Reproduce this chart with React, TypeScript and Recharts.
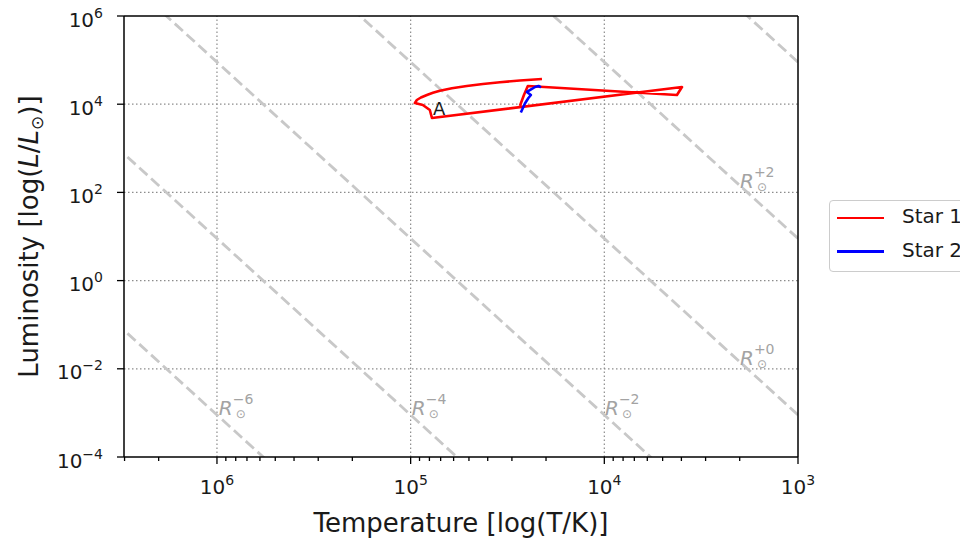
import {
  ComposedChart,
  Line,
  XAxis,
  YAxis,
  ReferenceLine,
  ReferenceDot,
} from 'recharts';

const FONT = '"DejaVu Sans", Verdana, sans-serif';

// evolutionary tracks: log10(T/K), log10(L/Lsun)
const star1LogT = [
  4.436, 4.415, 4.395, 3.625, 3.599, 4.890, 4.901, 4.937, 4.978, 4.968, 4.947, 4.916,
  4.885, 4.849, 4.787, 4.710, 4.627, 4.539, 4.436, 4.322,
];
const star1LogL = [
  3.959, 4.209, 4.413, 4.209, 4.390, 3.687, 3.868, 3.982, 4.027, 4.095, 4.152, 4.209,
  4.259, 4.306, 4.361, 4.413, 4.458, 4.499, 4.537, 4.571,
];
const star2LogT = [4.431, 4.410, 4.392, 4.379, 4.400, 4.374, 4.358, 4.340, 4.327];
const star2LogL = [3.812, 4.016, 4.141, 4.209, 4.277, 4.345, 4.390, 4.413, 4.379];

// constant radius guides, R = 10^k Rsun  (L = R^2 (T/Tsun)^4)
const radiusExps = [-6, -4, -2, 0, 2, 4];
const LOG_TSUN = Math.log10(5772);
const guideLogT = [3, 6.48];

// where the R labels sit (left edge / baseline of the text)
const radiusLabelExps = [-6, -4, -2, 0, 2];
const radiusLabelLogT = [5.991, 4.994, 3.997, 3.3, 3.3];
const radiusLabelLogL = [-3.05, -3.05, -3.05, -1.914, 2.1];

// point annotation on star 1
const annotText = 'A';
const annotLogT = 4.885;
const annotLogL = 3.744;

const xMajorTicks = [3, 4, 5, 6];
const mantissas = [2, 3, 4, 5, 6, 7, 8, 9];
const xMinorTicks = [3, 4, 5]
  .flatMap(d => mantissas.map(m => d + Math.log10(m)))
  .concat([6 + Math.log10(2), 6 + Math.log10(3)]);
const xTicks = [...xMajorTicks, ...xMinorTicks].sort((a, b) => a - b);
const yMajorTicks = [-4, -2, 0, 2, 4, 6];
const xGrid = [4, 5, 6];
const yGrid = [-2, 0, 2, 4];

const legendNames = ['Star 1', 'Star 2'];
const legendColors = ['#ff0000', '#0000ff'];

const toPts = (ts: number[], ls: number[]) => ts.map((t, i) => ({ t, l: ls[i] }));
const star1 = toPts(star1LogT, star1LogL);
const star2 = toPts(star2LogT, star2LogL);
const guides = radiusExps.map(k => ({
  k,
  pts: guideLogT.map(t => ({ t, l: 2 * k + 4 * (t - LOG_TSUN) })),
}));

const expText = (v: number) => (v < 0 ? `\u2212${-v}` : `${v}`);

const XTick = ({ x, y, payload }: any) => {
  const v = payload.value;
  const major = Number.isInteger(v);
  return (
    <g>
      <line x1={x} x2={x} y1={y} y2={y + (major ? 7 : 4)} stroke="#000" strokeWidth={1.3} />
      {major && (
        <text x={x} y={y + 37} textAnchor="middle" fontSize={20} fill="#1a1a1a" fontFamily={FONT}>
          <tspan>10</tspan>
          <tspan dy={-9} fontSize={14}>{expText(v)}</tspan>
        </text>
      )}
    </g>
  );
};

const YTick = ({ x, y, payload }: any) => (
  <g>
    <line x1={x - 7} x2={x} y1={y} y2={y} stroke="#000" strokeWidth={1.3} />
    <text x={x - 21} y={y + 10.5} textAnchor="end" fontSize={20} fill="#1a1a1a" fontFamily={FONT}>
      <tspan>10</tspan>
      <tspan dy={-9} fontSize={14}>{expText(payload.value)}</tspan>
    </text>
  </g>
);

const YTitle = (props: any) => {
  const vb = props.viewBox || { x: 0, y: 16, width: 116, height: 441 };
  const cx = vb.x + 30;
  const cy = vb.y + vb.height / 2;
  return (
    <text
      x={cx}
      y={cy}
      transform={`rotate(-90, ${cx}, ${cy})`}
      textAnchor="middle"
      fontSize={26}
      fill="#1a1a1a"
      fontFamily={FONT}
    >
      Luminosity [log(<tspan fontStyle="italic">L</tspan>/<tspan fontStyle="italic">L</tspan>
      <tspan fontSize={17} dy={5}>{'\u2299'}</tspan>
      <tspan dy={-5}>)]</tspan>
    </text>
  );
};

const radiusSup = (k: number) => (k < 0 ? `\u2212${-k}` : `+${k}`);

// R with stacked sub (sun symbol) and superscript exponent, as one text
const RadiusLabel = ({ cx, cy, k }: any) => (
  <text x={cx} y={cy} fill="#a3a3a3" fontFamily={FONT} fontSize={20}>
    <tspan fontStyle="italic">R</tspan>
    <tspan x={cx + 14} dy={-11} fontSize={14}>{radiusSup(k)}</tspan>
    <tspan x={cx + 17} dy={14} fontSize={12}>{'\u2299'}</tspan>
  </text>
);

export default function App() {
  return (
    <div
      style={{
        position: 'relative',
        width: 960,
        height: 543,
        marginTop: -8,
        overflow: 'hidden',
        fontFamily: FONT,
      }}
    >
      <ComposedChart width={960} height={543} margin={{ top: 16, right: 170, bottom: 0, left: 0 }}>
        <XAxis
          type="number"
          dataKey="t"
          domain={[3, 6.48]}
          reversed
          allowDataOverflow
          ticks={xTicks}
          interval={0}
          tickSize={0}
          tickMargin={0}
          tickLine={false}
          tick={<XTick />}
          height={86}
          axisLine={{ stroke: '#000', strokeWidth: 1.5 }}
          label={{
            value: 'Temperature [log(T/K)]',
            position: 'insideBottom',
            offset: 11.5,
            style: { fontSize: 26, fill: '#1a1a1a', fontFamily: FONT },
          }}
        />
        <YAxis
          type="number"
          dataKey="l"
          domain={[-4, 6]}
          allowDataOverflow
          ticks={yMajorTicks}
          interval={0}
          tickSize={0}
          tickMargin={0}
          tickLine={false}
          tick={<YTick />}
          width={116}
          axisLine={{ stroke: '#000', strokeWidth: 1.5 }}
          label={{ content: (p: any) => <YTitle {...p} /> }}
        />

        {xGrid.map(v => (
          <ReferenceLine key={`gx${v}`} x={v} stroke="#8c8c8c" strokeWidth={1.2} strokeDasharray="1.5 2.5" />
        ))}
        {yGrid.map(v => (
          <ReferenceLine key={`gy${v}`} y={v} stroke="#8c8c8c" strokeWidth={1.2} strokeDasharray="1.5 2.5" />
        ))}

        {guides.map(g => (
          <Line
            key={`r${g.k}`}
            data={g.pts}
            dataKey="l"
            stroke="#c8c8c8"
            strokeWidth={2.8}
            strokeDasharray="11 5"
            dot={false}
            activeDot={false}
            isAnimationActive={false}
          />
        ))}

        <Line
          data={star1}
          dataKey="l"
          name={legendNames[0]}
          stroke={legendColors[0]}
          strokeWidth={2.6}
          strokeLinejoin="round"
          dot={false}
          activeDot={false}
          isAnimationActive={false}
        />
        <Line
          data={star2}
          dataKey="l"
          name={legendNames[1]}
          stroke={legendColors[1]}
          strokeWidth={2.6}
          strokeLinejoin="round"
          dot={false}
          activeDot={false}
          isAnimationActive={false}
        />

        {radiusLabelExps.map((k, i) => (
          <ReferenceDot
            key={`rl${k}`}
            x={radiusLabelLogT[i]}
            y={radiusLabelLogL[i]}
            r={0}
            shape={(p: any) => <RadiusLabel {...p} k={k} />}
          />
        ))}
        <ReferenceDot
          x={annotLogT}
          y={annotLogL}
          r={0}
          shape={(p: any) => (
            <text x={p.cx} y={p.cy} fontSize={18} fill="#1a1a1a" fontFamily={FONT}>
              {annotText}
            </text>
          )}
        />

        <ReferenceLine x={3} stroke="#000" strokeWidth={1.5} />
        <ReferenceLine y={6} stroke="#000" strokeWidth={1.5} />
      </ComposedChart>

      <div
        style={{
          position: 'absolute',
          left: 821,
          top: 200,
          width: 200,
          height: 72,
          border: '1px solid #cccccc',
          borderRadius: 4,
          background: '#fff',
          boxSizing: 'border-box',
        }}
      >
        {legendNames.map((name, i) => (
          <div key={name}>
            <div
              style={{
                position: 'absolute',
                left: 7,
                top: 15.5 + i * 33.5,
                width: 47,
                height: 2.6,
                background: legendColors[i],
              }}
            />
            <div
              style={{
                position: 'absolute',
                left: 72,
                top: 5 + i * 33.5,
                fontSize: 20,
                lineHeight: '20px',
                color: '#1a1a1a',
                whiteSpace: 'nowrap',
              }}
            >
              {name}
            </div>
          </div>
        ))}
      </div>
    </div>
  );
}
